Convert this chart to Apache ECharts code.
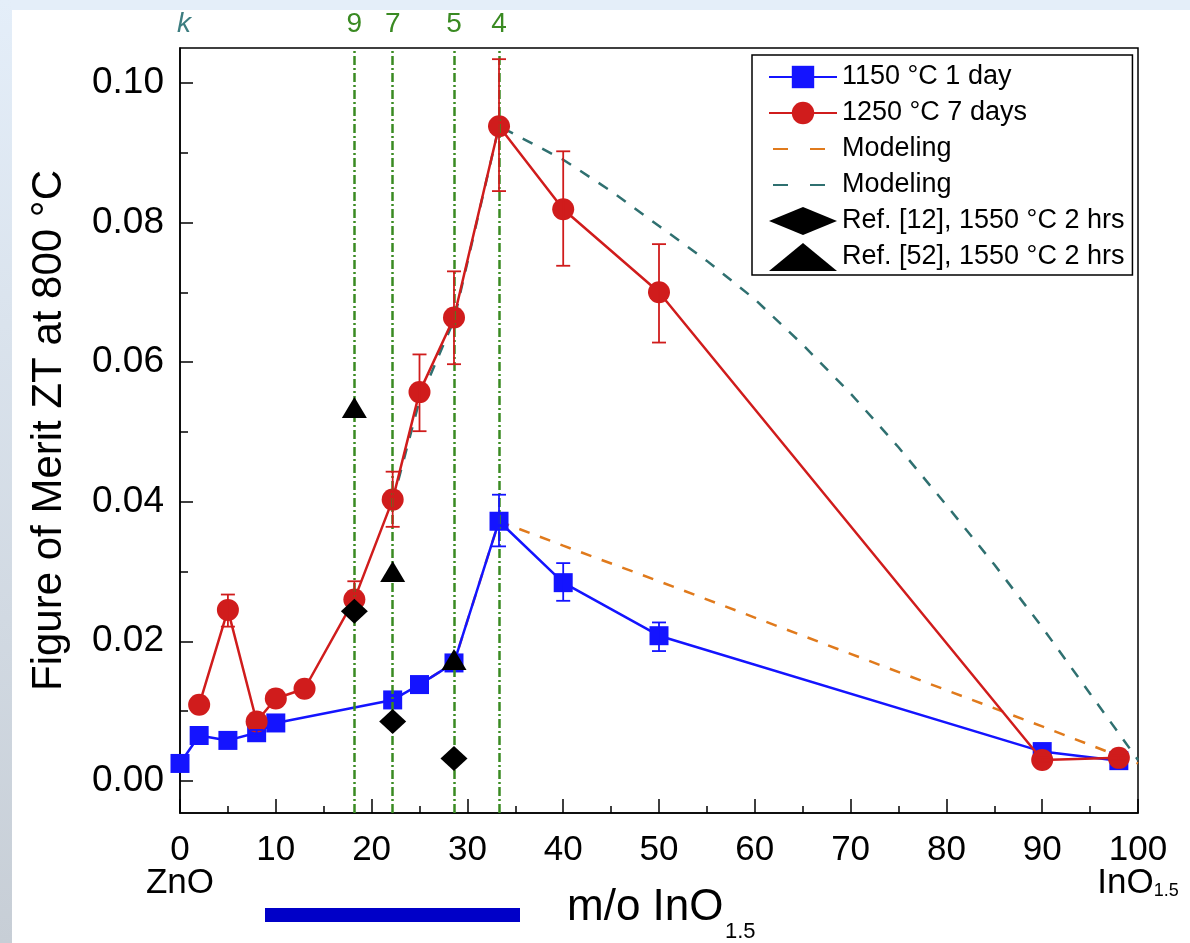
<!DOCTYPE html>
<html><head><meta charset="utf-8">
<script src="https://cdn.jsdelivr.net/npm/echarts@6/dist/echarts.min.js"></script>
<style>html,body{margin:0;padding:0;background:#fff}#c{width:1190px;height:943px}</style>
</head><body><div id="c"></div>
<script>
// ---- data ----
const blueX = [0, 2, 5, 8, 10, 22.2, 25, 28.6, 33.3, 40, 50, 90, 98];
const blueY = [0.0025, 0.0065, 0.0058, 0.0069, 0.0083, 0.0116, 0.0138, 0.0169, 0.0372, 0.0284, 0.0208, 0.0042, 0.0029];
const blueErrLow  = [null, null, null, 0.0065, null, null, null, 0.0161, 0.0336, 0.0258, 0.0186, null, null];
const blueErrHigh = [null, null, null, 0.0073, null, null, null, 0.0177, 0.0410, 0.0312, 0.0227, null, null];

const redX = [2, 5, 8, 10, 13, 18.2, 22.2, 25, 28.6, 33.3, 40, 50, 90, 98];
const redY = [0.0109, 0.0245, 0.0085, 0.0118, 0.0132, 0.0260, 0.0403, 0.0557, 0.0664, 0.0938, 0.0819, 0.0700, 0.0030, 0.0033];
const redErrLow  = [null, 0.0221, null, null, null, 0.0236, 0.0364, 0.0501, 0.0597, 0.0845, 0.0738, 0.0628, 0.0027, 0.0030];
const redErrHigh = [null, 0.0267, null, null, null, 0.0286, 0.0443, 0.0611, 0.0730, 0.1034, 0.0902, 0.0769, 0.0033, 0.0036];

const modelAX = [22.2, 25, 28.6, 33.3, 40, 50, 60, 70, 80, 90, 100];
const modelAY = [0.0116, 0.0138, 0.0169, 0.0372, 0.0337, 0.0286, 0.0234, 0.0182, 0.0130, 0.0078, 0.0025];

const modelBX = [22.2, 25, 28.6, 33.3, 40, 45, 50, 55, 60, 65, 70, 75, 80, 85, 90, 95, 100];
const modelBY = [0.0400, 0.0545, 0.0660, 0.0938, 0.0890, 0.0845, 0.0795, 0.0745, 0.0690, 0.0625, 0.0555, 0.0478, 0.0395, 0.0310, 0.0220, 0.0125, 0.0030];

const ref12X = [18.2, 22.2, 28.6];
const ref12Y = [0.0243, 0.0085, 0.0032];
const ref52X = [18.2, 22.2, 28.6];
const ref52Y = [0.0535, 0.0300, 0.0174];

const kLabels = ['9', '7', '5', '4'];
const kX = [18.2, 22.2, 28.6, 33.3];

const yMajorTicks = [0, 0.02, 0.04, 0.06, 0.08, 0.10];
const yMinorTicks = [0.01, 0.03, 0.05, 0.07, 0.09];

const names = ['1150 °C 1 day', '1250 °C 7 days', 'Modeling (1150 °C)', 'Modeling (1250 °C)', 'Ref. [12], 1550 °C 2 hrs', 'Ref. [52], 1550 °C 2 hrs'];
const xTitle = 'm/o InO';
const xTitleSub = '1.5';

// ---- styles ----
const BLUE = '#1414ff', RED = '#d01c1c', ORANGE = '#e07a1c', TEAL = '#2f7070', GREEN = '#3a8a22';
const SANS = '"Liberation Sans", Arial, sans-serif';

const pair = (xs, ys) => xs.map((x, i) => [x, ys[i]]);
const errData = (xs, lo, hi) => xs.map((x, i) => lo[i] == null ? null : [x, lo[i], hi[i]]).filter(Boolean);

function errRender(color) {
  return function (params, api) {
    const x = api.value(0), lo = api.value(1), hi = api.value(2);
    const p1 = api.coord([x, hi]), p2 = api.coord([x, lo]);
    const w = 7;
    const st = { stroke: color, lineWidth: 1.8 };
    return { type: 'group', children: [
      { type: 'line', shape: { x1: p1[0], y1: p1[1], x2: p2[0], y2: p2[1] }, style: st },
      { type: 'line', shape: { x1: p1[0] - w, y1: p1[1], x2: p1[0] + w, y2: p1[1] }, style: st },
      { type: 'line', shape: { x1: p2[0] - w, y1: p2[1], x2: p2[0] + w, y2: p2[1] }, style: st }
    ]};
  };
}

const chart = echarts.init(document.getElementById('c'), null, { renderer: 'canvas' });
chart.setOption({
  backgroundColor: '#ffffff',
  animation: false,
  graphic: [
    { type: 'rect', left: 0, top: 0, shape: { width: 1190, height: 10 }, style: { fill: '#e4eef9' }, z: -10 },
    { type: 'rect', left: 0, top: 0, shape: { width: 12, height: 943 },
      style: { fill: new echarts.graphic.LinearGradient(0, 0, 0, 1, [{ offset: 0, color: '#e4eef9' }, { offset: 1, color: '#c7ced6' }]) }, z: -10 },
    { type: 'rect', left: 265, top: 908, shape: { width: 255, height: 14 }, style: { fill: '#0000c8' } },
    { type: 'text', left: 177, top: 10, style: { text: 'k', fill: '#3d7d80', font: 'italic 28px ' + SANS } },
    { type: 'text', left: 567, top: 886, style: { text: xTitle, fill: '#000', font: '44px ' + SANS } },
    { type: 'text', left: 725, top: 921, style: { text: xTitleSub, fill: '#000', font: '22px ' + SANS } }
  ],
  grid: { left: 180, right: 52, top: 48, bottom: 130, outerBoundsMode: 'none', containLabel: false,
    show: true, borderColor: '#000', borderWidth: 1.5, backgroundColor: 'transparent' },
  legend: {
    data: names.map((n, i) => (i === 2 || i === 3)
      ? { name: n, itemStyle: { opacity: 0 }, lineStyle: { type: [15, 22], dashOffset: -4 } }
      : { name: n }),
    orient: 'vertical',
    left: 752, top: 55,
    borderColor: '#000', borderWidth: 1.5,
    backgroundColor: '#fff',
    padding: [8, 8, 4, 16],
    itemWidth: 68, itemHeight: 28, itemGap: 8,
    symbolKeepAspect: true,
    textStyle: { fontFamily: SANS, fontSize: 27, lineHeight: 28, color: '#000' },
    formatter: n => n.indexOf('Modeling') === 0 ? 'Modeling' : n
  },
  xAxis: {
    type: 'value', min: 0, max: 100, interval: 10,
    axisLine: { onZero: false, lineStyle: { color: '#000', width: 1.5 } },
    axisTick: { inside: true, length: 14, lineStyle: { color: '#000', width: 1.5 } },
    minorTick: { show: true, splitNumber: 2, length: 7, lineStyle: { color: '#000', width: 1.5 } },
    splitLine: { show: false }, minorSplitLine: { show: false },
    axisLabel: {
      margin: 21, color: '#000', fontFamily: SANS, fontSize: 35, lineHeight: 33,
      showMinLabel: true, showMaxLabel: true,
      formatter: v => v === 0 ? '0\nZnO' : (v === 100 ? '{n|100}\n{n|InO}{sub|1.5}' : String(v)),
      rich: {
        n: { fontFamily: SANS, fontSize: 35, lineHeight: 33, color: '#000' },
        sub: { fontFamily: SANS, fontSize: 18, lineHeight: 20, color: '#000', verticalAlign: 'bottom', padding: [30, 0, 0, 0] }
      }
    }
  },
  yAxis: [{
    type: 'value', min: -0.0046, max: 0.105,
    axisLine: { show: true, lineStyle: { color: '#000', width: 1.5 } },
    axisTick: { inside: true, length: 13, customValues: yMajorTicks, lineStyle: { color: '#000', width: 1.5 } },
    axisLabel: { customValues: yMajorTicks, formatter: v => v.toFixed(2), fontFamily: SANS, fontSize: 37, color: '#000', margin: 16 },
    splitLine: { show: false },
    name: 'Figure of Merit ZT at 800 °C',
    nameLocation: 'middle', nameGap: 110, nameRotate: 90,
    nameTextStyle: { fontFamily: SANS, fontSize: 42, color: '#000' }
  }, {
    type: 'value', min: -0.0046, max: 0.105, position: 'left',
    axisLine: { show: false },
    axisTick: { show: true, inside: true, length: 8, customValues: yMinorTicks, lineStyle: { color: '#000', width: 1.5 } },
    axisLabel: { show: false },
    splitLine: { show: false }
  }],
  series: [
    { name: names[0], type: 'line', data: pair(blueX, blueY), symbol: 'rect', symbolSize: 19,
      itemStyle: { color: BLUE }, lineStyle: { color: BLUE, width: 2.5 }, z: 3 },
    { name: names[1], type: 'line', data: pair(redX, redY), symbol: 'circle', symbolSize: 22,
      itemStyle: { color: RED }, lineStyle: { color: RED, width: 2.5 }, z: 4 },
    { name: names[2], type: 'line', data: pair(modelAX, modelAY), symbol: 'none',
      itemStyle: { color: ORANGE }, lineStyle: { color: ORANGE, width: 2.5, type: [11, 11] }, z: 2 },
    { name: names[3], type: 'line', data: pair(modelBX, modelBY), symbol: 'none',
      itemStyle: { color: TEAL }, lineStyle: { color: TEAL, width: 2.5, type: [11, 11] }, z: 2 },
    { name: names[4], type: 'scatter', data: pair(ref12X, ref12Y), symbol: 'diamond', symbolSize: [27, 25], symbolKeepAspect: true,
      itemStyle: { color: '#000', opacity: 1 }, z: 6 },
    { name: names[5], type: 'scatter', data: pair(ref52X, ref52Y), symbol: 'triangle', symbolSize: [25, 21], symbolKeepAspect: true,
      itemStyle: { color: '#000', opacity: 1 }, z: 6 },
    { name: 'blue error', type: 'custom', data: errData(blueX, blueErrLow, blueErrHigh), renderItem: errRender(BLUE), z: 5 },
    { name: 'red error', type: 'custom', data: errData(redX, redErrLow, redErrHigh), renderItem: errRender(RED), z: 5 },
    { name: 'k lines', type: 'line', data: [], z: 8,
      markLine: {
        silent: true, symbol: ['none', 'none'], animation: false,
        lineStyle: { color: GREEN, width: 2.5, type: [9, 3, 2, 3] },
        label: { show: true, position: 'end', color: GREEN, fontFamily: SANS, fontSize: 28, distance: 10 },
        data: kX.map((x, i) => ({ xAxis: x, label: { formatter: kLabels[i] } }))
      }
    }
  ]
});
</script>
</body></html>
